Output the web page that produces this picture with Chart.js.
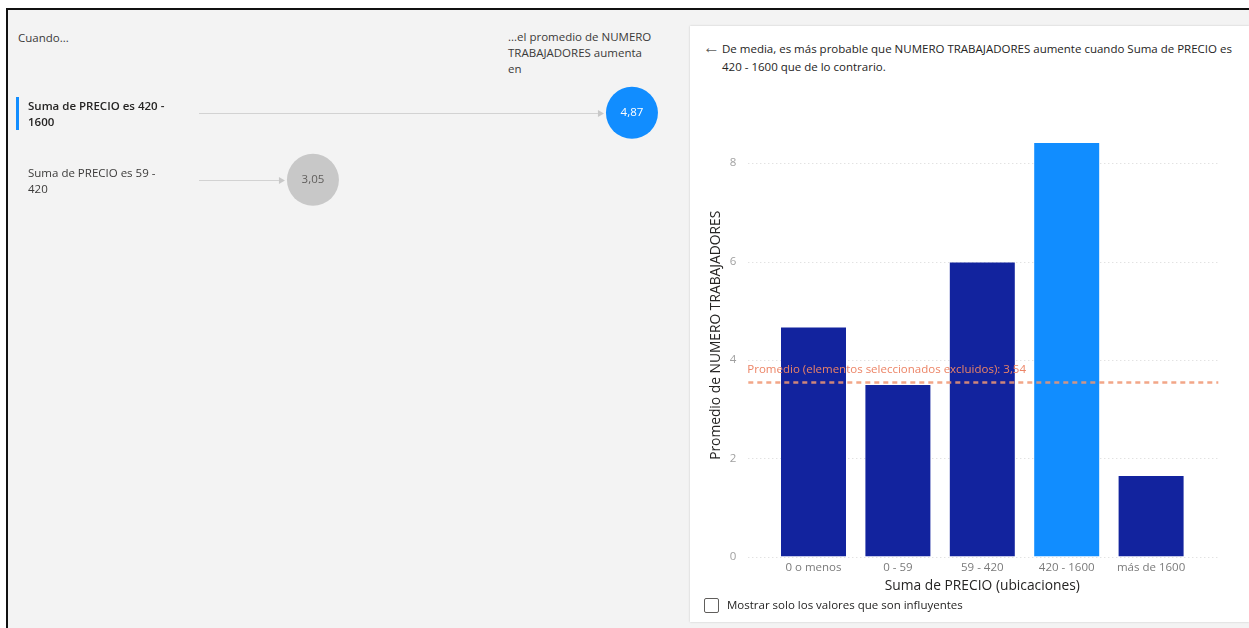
<!DOCTYPE html>
<html>
<head>
<meta charset="utf-8">
<script src="https://cdn.jsdelivr.net/npm/chart.js@4.4.1/dist/chart.umd.min.js"></script>
<style>
    body {
        margin: 0;
        width: 1249px;
        height: 628px;
        overflow: hidden;
        background: #fff;
        font-family: "Segoe UI", "Open Sans", sans-serif;
        color: #252423;
        position: relative;
    }
    .abs { position: absolute; }
    #frame {
        left: 6px; top: 8px; right: 0; bottom: 0;
        border-left: 2px solid #111;
        border-top: 2px solid #111;
        background: #f3f3f3;
    }
    #detail {
        left: 690px; top: 26px; width: 559px; height: 596px;
        background: #fff;
        box-shadow: 0 0 2px rgba(0, 0, 0, 0.18);
    }
    .txt { font-size: 11.5px; line-height: 16px; white-space: nowrap; }
    .row-label { left: 28px; font-size: 11.5px; line-height: 16px; width: 150px; color: #3b3a39; }
    .row-label.sel { font-weight: 600; color: #252423; }
</style>
</head>
<body>
<div id="frame" class="abs"></div>
<div id="detail" class="abs"></div>

<div class="abs txt" style="left:18px; top:30px; color:#3b3a39;">Cuando...</div>
<div class="abs txt" style="left:508px; top:29px; color:#3b3a39;">...el promedio de NUMERO<br>TRABAJADORES aumenta<br>en</div>

<div class="abs txt" style="left:703px; top:38px; font-size:17px; line-height:18px; color:#605e5c;">&larr;</div>
<div class="abs txt" style="left:722px; top:40px; line-height:18px; color:#252423;">De media, es más probable que NUMERO TRABAJADORES aumente cuando Suma de PRECIO es<br>420 - 1600 que de lo contrario.</div>

<div class="abs" style="left:0; top:80px; width:690px; height:130px;"><canvas id="influencers"></canvas></div>
<div class="abs" style="left:690px; top:100px; width:559px; height:500px;"><canvas id="myChart"></canvas></div>

<div class="abs" style="left:704px; top:598px; width:13px; height:13px; border:1px solid #605e5c; border-radius:2px; background:#fff;"></div>
<div class="abs txt" style="left:727px; top:597px; color:#252423;">Mostrar solo los valores que son influyentes</div>

<script>
// bins of Suma de PRECIO and the average of NUMERO TRABAJADORES in each
const categories = ["0 o menos", "0 - 59", "59 - 420", "420 - 1600", "más de 1600"];
const averages = [4.66, 3.49, 5.98, 8.41, 1.64];
const selectedIndex = 3;
const excludedAverage = 3.54;
const yTicks = [0, 2, 4, 6, 8];

// key influencers list on the left
const influencerLabels = ["Suma de PRECIO es 420 - 1600", "Suma de PRECIO es 59 - 420"];
const influencerValues = [4.87, 3.05];

const BLUE = "#118dff";
const NAVY = "#12239e";
const FONT = "'Segoe UI', 'Open Sans', sans-serif";
Chart.defaults.font.family = FONT;

const fmt = (v) => v.toFixed(2).replace(".", ",");

// dotted grid + dashed average line, drawn a bit wider than the bars area
const extraLines = {
    id: "extraLines",
    beforeDatasetsDraw(chart) {
        const { ctx, chartArea } = chart;
        const y = chart.scales.y;
        ctx.save();
        ctx.strokeStyle = "#d6d6d6";
        ctx.lineWidth = 1;
        ctx.setLineDash([1, 3]);
        y.ticks.forEach((t) => {
            const py = Math.round(y.getPixelForValue(t.value)) + 0.5;
            ctx.beginPath();
            ctx.moveTo(chartArea.left - 23, py);
            ctx.lineTo(chartArea.right + 25, py);
            ctx.stroke();
        });
        ctx.restore();
    },
    afterDatasetsDraw(chart) {
        const { ctx, chartArea } = chart;
        const py = chart.scales.y.getPixelForValue(excludedAverage);
        ctx.save();
        ctx.strokeStyle = "rgba(240, 150, 115, 0.85)";
        ctx.lineWidth = 2.5;
        ctx.setLineDash([5, 4]);
        ctx.beginPath();
        ctx.moveTo(chartArea.left - 23, py);
        ctx.lineTo(chartArea.right + 25, py);
        ctx.stroke();
        ctx.setLineDash([]);
        ctx.fillStyle = "#ec8466";
        ctx.font = "11.5px " + FONT;
        ctx.textAlign = "left";
        ctx.textBaseline = "middle";
        ctx.fillText("Promedio (elementos seleccionados excluidos): " + fmt(excludedAverage), chartArea.left - 24, py - 13);
        ctx.restore();
    },
};

const renderChart = () => {
    const ctx = document.getElementById("myChart");
    new Chart(ctx, {
        type: "bar",
        data: {
            labels: categories,
            datasets: [
                {
                    label: "Promedio de NUMERO TRABAJADORES",
                    data: averages,
                    backgroundColor: categories.map((c, i) => (i === selectedIndex ? BLUE : NAVY)),
                    borderWidth: 0,
                    barPercentage: 0.77,
                    categoryPercentage: 1,
                },
            ],
        },
        options: {
            responsive: true,
            maintainAspectRatio: false,
            animation: false,
            events: [],
            layout: { autoPadding: false, padding: { left: 0, right: 55.7, top: 14, bottom: 0 } },
            plugins: { legend: { display: false }, tooltip: { enabled: false } },
            scales: {
                x: {
                    grid: { display: false, drawTicks: false },
                    border: { display: false },
                    ticks: { color: "#7a7a7a", padding: 4, font: { size: 11.5 } },
                    title: {
                        display: true,
                        text: "Suma de PRECIO (ubicaciones)",
                        color: "#252423",
                        font: { size: 13.8, lineHeight: 1.2 },
                        padding: { top: 0, bottom: 5.5 },
                    },
                    afterFit: (scale) => {
                        scale.height = 43.4;
                        scale.paddingLeft = 0;
                        scale.paddingRight = 0;
                    },
                },
                y: {
                    min: 0,
                    max: 9,
                    grid: { display: false, drawTicks: false },
                    border: { display: false },
                    ticks: { color: "#a0a0a0", padding: 35, font: { size: 11.5 } },
                    afterBuildTicks: (scale) => { scale.ticks = yTicks.map((v) => ({ value: v })); },
                    title: {
                        display: true,
                        text: "Promedio de NUMERO TRABAJADORES",
                        color: "#252423",
                        font: { size: 13.8, lineHeight: 1.2 },
                        padding: { top: 17.7, bottom: 0 },
                    },
                    afterFit: (scale) => {
                        // tick padding only pushes labels left, not the plot top
                        scale.width = 81.3;
                        scale.paddingTop = 0;
                        scale.paddingBottom = 0;
                    },
                },
            },
        },
        plugins: [extraLines],
    });
};

// connector lines and values for the influencer bubbles
const bubbleDecor = {
    id: "bubbleDecor",
    beforeDatasetsDraw(chart) {
        const { ctx, chartArea } = chart;
        const meta = chart.getDatasetMeta(0);
        ctx.save();
        ctx.strokeStyle = "#d2d2d2";
        ctx.fillStyle = "#c8c8c8";
        ctx.lineWidth = 1;
        meta.data.forEach((pt) => {
            const end = pt.x - 26 - 8;
            const y = Math.round(pt.y) + 0.5;
            ctx.beginPath();
            ctx.moveTo(chartArea.left, y);
            ctx.lineTo(end, y);
            ctx.stroke();
            ctx.beginPath();
            ctx.moveTo(end, y - 3.5);
            ctx.lineTo(end + 6, y);
            ctx.lineTo(end, y + 3.5);
            ctx.closePath();
            ctx.fill();
        });
        ctx.restore();
    },
    afterDatasetsDraw(chart) {
        const { ctx } = chart;
        const meta = chart.getDatasetMeta(0);
        ctx.save();
        ctx.font = "11.5px " + FONT;
        ctx.textAlign = "center";
        ctx.textBaseline = "middle";
        meta.data.forEach((pt, i) => {
            ctx.fillStyle = i === 0 ? "#ffffff" : "#605e5c";
            ctx.fillText(fmt(influencerValues[i]), pt.x, pt.y);
        });
        ctx.restore();
    },
};

const renderInfluencers = () => {
    const chart = new Chart(document.getElementById("influencers"), {
        type: "scatter",
        data: {
            datasets: [
                {
                    data: influencerValues.map((v, i) => ({ x: v, y: i })),
                    backgroundColor: influencerValues.map((v, i) => (i === 0 ? BLUE : "#c8c8c8")),
                    pointRadius: 26,
                    pointHoverRadius: 26,
                    borderWidth: 0,
                    clip: false,
                },
            ],
        },
        options: {
            responsive: true,
            maintainAspectRatio: false,
            animation: false,
            events: [],
            layout: { autoPadding: false, padding: { left: 199, right: 30, top: 0, bottom: 0 } },
            plugins: { legend: { display: false }, tooltip: { enabled: false } },
            scales: {
                x: { display: false, min: 2.4, max: 5.03 },
                y: { display: false, min: -0.49, max: 1.45, reverse: true },
            },
        },
        plugins: [bubbleDecor],
    });

    // row captions, placed on the same rows as the bubbles
    influencerLabels.forEach((text, i) => {
        const py = 80 + chart.scales.y.getPixelForValue(i);
        const div = document.createElement("div");
        div.className = "abs row-label" + (i === 0 ? " sel" : "");
        div.style.top = py - 15 + "px";
        div.textContent = text;
        document.body.appendChild(div);
        if (i === 0) {
            const bar = document.createElement("div");
            bar.className = "abs";
            bar.style.cssText = `left:16px; top:${py - 16}px; width:3px; height:33px; background:${BLUE};`;
            document.body.appendChild(bar);
        }
    });
};

renderInfluencers();
renderChart();
</script>
</body>
</html>
